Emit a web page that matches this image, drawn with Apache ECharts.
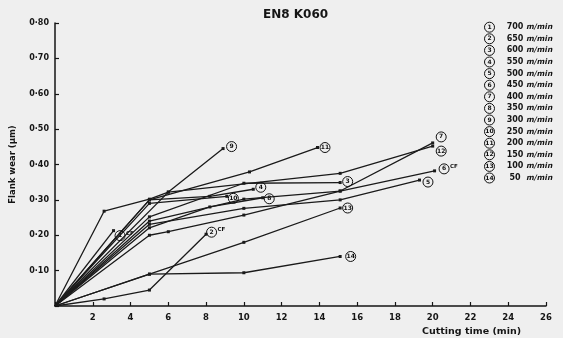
<!DOCTYPE html>
<html><head><meta charset="utf-8">
<script src="https://cdn.jsdelivr.net/npm/echarts@6/dist/echarts.min.js"></script>
<style>html,body{margin:0;padding:0;background:#efefef}#c{width:563px;height:338px}</style>
</head><body><div id="c"></div>
<script>
// ---- data ----
const titleText = "EN8 K060";
const speeds = ["700","650","600","550","500","450","400","350","300","250","200","150","100","50"];
const chipFail = [true,true,false,false,false,true,false,false,false,false,false,false,false,false];
const s1  = [[0,0],[3.1,0.213]];
const s2  = [[0,0],[2.6,0.02],[5,0.045],[8,0.203]];
const s3  = [[0,0],[5,0.252],[10,0.347],[15.1,0.349]];
const s4  = [[0,0],[5,0.30],[8.2,0.31],[10.5,0.33]];
const s5  = [[0,0],[5,0.231],[10,0.276],[15.1,0.30],[19.3,0.356]];
const s6  = [[0,0],[5,0.24],[10,0.302],[15.1,0.325],[20.1,0.382]];
const s7  = [[0,0],[5,0.20],[6,0.21],[10,0.257],[15.1,0.325],[20,0.461]];
const s8  = [[0,0],[5,0.221],[8.2,0.28],[11,0.306]];
const s9  = [[0,0],[2.6,0.268],[5,0.302],[6,0.322],[8.9,0.445]];
const s10 = [[0,0],[5,0.29],[9.1,0.31]];
const s11 = [[0,0],[5,0.30],[10.3,0.379],[13.9,0.448]];
const s12 = [[0,0],[6,0.322],[15.1,0.375],[20,0.452]];
const s13 = [[0,0],[5,0.09],[10,0.18],[15.1,0.277]];
const s14 = [[0,0],[5,0.09],[10,0.094],[15.1,0.14]];
const allSeries = [s1,s2,s3,s4,s5,s6,s7,s8,s9,s10,s11,s12,s13,s14];
const xTicks = [2,4,6,8,10,12,14,16,18,20,22,24,26];
const yTickLabels = ["0·10","0·20","0·30","0·40","0·50","0·60","0·70","0·80"];

// ---- label placement (style only) ----
const labelOffsets = [[0,5],[-1,-2],[1,-1],[1,-2],[2,2],[3,-2],[2,-6],[0,1],[2,-2],[0,2],[1,0],[2,5],[1,0],[4,0]];

const circleStyle = {width:10,height:10,lineHeight:10,borderRadius:5,borderWidth:1,borderColor:'#111',align:'center',fontSize:6,fontWeight:'bold',color:'#111',fontFamily:'DejaVu Sans'};
const cfStyle = {fontSize:5.5, lineHeight:5, padding:[0,0,5,1], color:'#111', fontFamily:'DejaVu Sans', fontWeight:'bold'};

const chart = echarts.init(document.getElementById('c'));
const series = allSeries.map((pts, i) => ({
  name: speeds[i] + ' m/min',
  type: 'line',
  data: pts.map((p, j) => {
    const item = {value: p};
    if (j === 0) item.symbol = 'none';
    if (j === pts.length - 1) {
      item.label = {
        show: true, position: 'right', distance: 0,
        offset: labelOffsets[i],
        formatter: '{c|' + (i+1) + '}' + (chipFail[i] ? '{cf|CF}' : ''),
        rich: {c: circleStyle, cf: cfStyle}
      };
    }
    return item;
  }),
  symbol: 'rect', symbolSize: 3,
  lineStyle: {color:'#1a1a1a', width:1.3},
  itemStyle: {color:'#1a1a1a'},
  emphasis: {disabled:true},
  animation: false
}));

chart.setOption({
  backgroundColor: '#efefef',
  animation: false,
  title: {text: titleText, left: 258, top: 4, textStyle: {fontFamily:'DejaVu Sans', fontWeight:'bold', fontSize:12, color:'#151515'}},
  legend: {
    orient: 'vertical', left: 474.5, top: 16.5, itemGap: 0.4, itemWidth: 0, itemHeight: 11.4,
    icon: 'none', selectedMode: false,
    data: speeds.map(s => s + ' m/min'),
    formatter: name => {
      const i = speeds.indexOf(name.split(' ')[0]);
      return '{c|' + (i+1) + '}{n|' + speeds[i] + '}{u|m/min}';
    },
    textStyle: {
      rich: {
        c: circleStyle,
        n: {width:23, align:'left', padding:[0,0,0,9], fontSize:8, fontWeight:'bold', color:'#151515', fontFamily:'DejaVu Sans'},
        u: {fontSize:7.5, fontWeight:'bold', fontStyle:'italic', color:'#151515', fontFamily:'DejaVu Sans'}
      }
    }
  },
  grid: {left: 50, right: 17, top: 23, bottom: 32, containLabel: false},
  xAxis: {
    type: 'value', min: 0, max: 26, interval: 2,
    axisLine: {lineStyle: {color:'#151515', width:1.5}},
    axisTick: {inside: true, length: 4, lineStyle: {color:'#151515', width:1.2}},
    splitLine: {show:false},
    axisLabel: {margin: 7, fontFamily:'DejaVu Sans', fontWeight:'bold', fontSize:8.5, color:'#151515',
      formatter: v => xTicks.indexOf(v) >= 0 ? String(v) : ''},
    name: 'Cutting time (min)', nameLocation: 'end', nameGap: 0,
    nameTextStyle: {align:'right', verticalAlign:'top', padding:[21, 25, 0, 0], fontFamily:'DejaVu Sans', fontWeight:'bold', fontSize:9.5, color:'#151515'}
  },
  yAxis: {
    type: 'value', min: 0, max: 0.8, interval: 0.1,
    axisLine: {show:true, lineStyle: {color:'#151515', width:1.5}},
    axisTick: {show:true, inside: true, length: 4, lineStyle: {color:'#151515', width:1.2}},
    splitLine: {show:false},
    axisLabel: {margin: 6, fontFamily:'DejaVu Sans', fontWeight:'bold', fontSize:8, color:'#151515',
      formatter: v => { const k = Math.round(v*10); return k > 0 ? yTickLabels[k-1] : ''; }},
    name: 'Flank wear (μm)', nameLocation: 'middle', nameGap: 38, nameRotate: 90,
    nameTextStyle: {fontFamily:'DejaVu Sans', fontWeight:'bold', fontSize:8.5, color:'#151515'}
  },
  series: series
});
</script></body></html>
